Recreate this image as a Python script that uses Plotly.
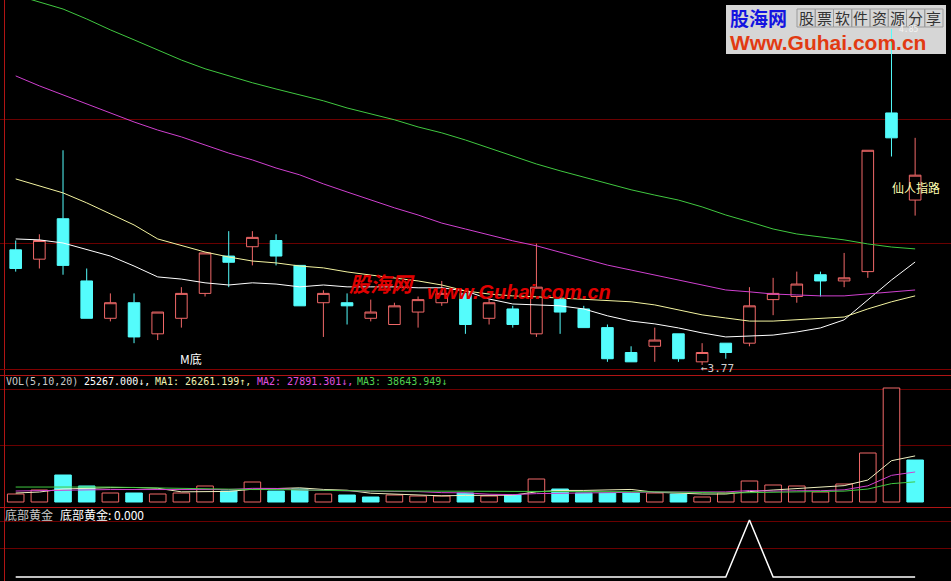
import plotly.graph_objects as go

# ---------------- data ----------------
idx = list(range(39))
opens  = [4.14,4.11,4.24,4.04,3.92,3.97,3.87,3.92,4.00,4.12,4.15,4.17,4.09,3.97,3.97,3.92,3.90,3.94,3.97,4.00,
          3.92,3.95,3.87,3.98,3.95,3.89,3.81,3.83,3.87,3.78,3.84,3.84,3.98,3.99,4.06,4.04,4.07,4.58,4.30]
highs  = [4.17,4.19,4.46,4.08,4.00,4.00,3.94,4.02,4.13,4.20,4.20,4.19,4.09,4.01,4.00,3.98,3.97,3.99,4.04,4.00,
          3.98,3.96,4.16,3.99,3.96,3.90,3.83,3.89,3.87,3.84,3.84,4.02,4.05,4.07,4.07,4.13,4.46,4.85,4.50]
lows   = [4.07,4.08,4.06,3.92,3.91,3.84,3.85,3.89,3.99,4.02,4.09,4.09,3.96,3.86,3.90,3.91,3.90,3.89,3.96,3.87,
          3.90,3.89,3.86,3.87,3.89,3.78,3.78,3.78,3.78,3.77,3.79,3.83,3.93,3.97,3.99,4.02,4.05,4.44,4.25]
closes = [4.08,4.17,4.09,3.92,3.97,3.86,3.94,4.00,4.13,4.10,4.18,4.12,3.96,4.00,3.96,3.94,3.96,3.98,4.00,3.90,
          3.97,3.90,4.02,3.94,3.89,3.79,3.78,3.85,3.79,3.81,3.81,3.96,4.00,4.03,4.04,4.05,4.46,4.50,4.38]

ma10 = [4.175,4.172,4.162,4.140,4.120,4.088,4.053,4.046,4.034,4.027,4.034,4.030,4.021,4.027,4.021,4.021,4.021,4.018,4.018,4.008,
        3.982,3.966,3.963,3.960,3.950,3.928,3.911,3.902,3.889,3.873,3.860,3.863,3.866,3.876,3.889,3.915,3.979,4.043,4.101]
ma20 = [4.368,4.345,4.323,4.291,4.255,4.220,4.175,4.153,4.133,4.117,4.104,4.098,4.088,4.082,4.069,4.059,4.050,4.040,4.027,4.008,
        3.998,3.992,3.989,3.985,3.982,3.979,3.973,3.963,3.947,3.931,3.921,3.911,3.911,3.915,3.918,3.924,3.950,3.973,3.992]
ma30 = [4.699,4.667,4.638,4.609,4.580,4.551,4.525,4.503,4.477,4.451,4.429,4.403,4.381,4.352,4.326,4.300,4.275,4.252,4.226,4.207,
        4.188,4.169,4.153,4.133,4.111,4.091,4.075,4.059,4.043,4.027,4.011,4.005,3.998,3.995,3.992,3.992,3.998,4.005,4.011]
ma60 = [4.959,4.937,4.914,4.882,4.847,4.815,4.783,4.750,4.722,4.699,4.677,4.657,4.638,4.619,4.596,4.577,4.558,4.535,4.516,4.493,
        4.468,4.442,4.416,4.394,4.374,4.352,4.333,4.316,4.300,4.278,4.252,4.230,4.207,4.191,4.181,4.172,4.159,4.149,4.143]

volume = [4810,7220,16240,9630,5410,5410,4810,5410,9630,6620,12030,6620,7820,4810,4210,3010,4210,3610,3610,5410,
          3610,4210,13840,7820,5410,5410,5410,5410,4810,3010,5410,12630,10230,9630,6020,10830,29480,68580,25267]
vol_up = [1,1,0,0,1,0,1,1,1,0,1,0,0,1,0,0,1,1,1,0,
          1,0,1,0,0,0,0,1,0,1,1,1,1,1,1,1,1,1,0]
vma5  = [5400,6000,7800,8400,8640,8760,8280,6120,6120,6360,7680,8040,8520,7560,7080,5280,4800,3960,3720,3960,
         4080,4080,6120,6960,6960,7320,7560,5880,5280,4800,4800,6240,7200,8160,8760,9840,13200,24840,27720]
vma10 = [6600,6900,7200,7500,7500,7500,7500,7500,7500,7500,8220,8160,7320,6840,6720,6480,6420,6240,5640,5520,
         4680,4440,5040,5340,5460,5700,5820,6000,6120,5880,6060,6900,6540,6720,6780,7320,9720,16020,18060]
vma20 = [9000,9000,9300,9300,9000,8700,8400,8100,7800,7800,7500,7500,7200,7200,6900,6600,6600,6600,6480,6540,
         6480,6300,6420,6420,6420,6360,6180,6120,6060,5700,5400,5670,5790,6030,6120,6540,7800,11040,12120]

signal = [0]*31 + [1] + [0]*7

# ---------------- styling ----------------
W, H = 951, 581
CYAN = "#54fcfc"
RED = "#f06868"
GRID = "#6a0000"
BORDER = "#b01414"

def px(x):
    return x / W

def py(y):
    return 1 - y / H

xr = [-0.663, 39.515]

fig = go.Figure()

fig.add_trace(go.Candlestick(
    x=idx, open=opens, high=highs, low=lows, close=closes,
    increasing=dict(line=dict(color=RED, width=1), fillcolor="#000000"),
    decreasing=dict(line=dict(color=CYAN, width=1), fillcolor=CYAN),
    whiskerwidth=0, xaxis="x", yaxis="y", hoverinfo="skip"))

for vals, col in [(ma10, "#ffffff"), (ma20, "#f4f4a0"), (ma30, "#d040d0"), (ma60, "#40c840")]:
    fig.add_trace(go.Scatter(x=idx, y=vals, mode="lines", line=dict(color=col, width=1),
                             xaxis="x", yaxis="y", hoverinfo="skip"))

fig.add_trace(go.Bar(
    x=idx, y=volume, width=0.7,
    marker=dict(color=["#000000" if u else CYAN for u in vol_up],
                line=dict(color=[RED if u else CYAN for u in vol_up], width=1)),
    xaxis="x2", yaxis="y2", hoverinfo="skip"))

for vals, col in [(vma5, "#f0f0c0"), (vma10, "#d040d0"), (vma20, "#40c840")]:
    fig.add_trace(go.Scatter(x=idx, y=vals, mode="lines", line=dict(color=col, width=1),
                             xaxis="x2", yaxis="y2", hoverinfo="skip"))

fig.add_trace(go.Scatter(x=idx, y=signal, mode="lines", line=dict(color="#ffffff", width=1.5),
                         xaxis="x3", yaxis="y3", hoverinfo="skip"))

ax_common = dict(showgrid=False, zeroline=False, showticklabels=False, ticks="", showline=False)

fig.update_layout(
    width=W, height=H, margin=dict(l=0, r=0, t=0, b=0),
    paper_bgcolor="#000000", plot_bgcolor="#000000", showlegend=False,
    xaxis=dict(range=xr, domain=[0, 1], anchor="y", rangeslider=dict(visible=False), **ax_common),
    xaxis2=dict(range=xr, domain=[0, 1], anchor="y2", **ax_common),
    xaxis3=dict(range=xr, domain=[0, 1], anchor="y3", **ax_common),
    yaxis=dict(range=[3.757, 4.943], domain=[py(369), 1], showgrid=True, gridcolor=GRID, gridwidth=1,
               tickvals=[4.16, 4.56], zeroline=False, showticklabels=False, ticks=""),
    yaxis2=dict(range=[-600, 76400], domain=[py(503), py(375)], showgrid=True, gridcolor=GRID, gridwidth=1,
                tickvals=[34200, 67800], zeroline=False, showticklabels=False, ticks=""),
    yaxis3=dict(range=[-0.0702, 1.228], domain=[0, py(507)], showgrid=True, gridcolor=GRID, gridwidth=1,
                tickvals=[0.5, 0.98], zeroline=False, showticklabels=False, ticks=""),
    bargap=0.3,
)

shapes = [
    dict(type="line", xref="paper", yref="paper", x0=px(4.5), x1=px(4.5), y0=0, y1=1,
         line=dict(color=BORDER, width=1)),
    dict(type="line", xref="paper", yref="paper", x0=0, x1=1, y0=py(369.5), y1=py(369.5),
         line=dict(color="#800000", width=1)),
    dict(type="line", xref="paper", yref="paper", x0=0, x1=1, y0=py(375.5), y1=py(375.5),
         line=dict(color=BORDER, width=1)),
    dict(type="line", xref="paper", yref="paper", x0=0, x1=1, y0=py(507.5), y1=py(507.5),
         line=dict(color=BORDER, width=1)),
    dict(type="rect", xref="paper", yref="paper", x0=px(726), x1=px(946), y0=py(54), y1=py(5),
         fillcolor="#d6d6d6", line=dict(width=0), layer="below"),
]
cell_w = 146 / 8
for k in range(8):
    shapes.append(dict(type="rect", xref="paper", yref="paper",
                       x0=px(797 + k * cell_w), x1=px(797 + (k + 1) * cell_w), y0=py(27), y1=py(9),
                       line=dict(color="#9a9a9a", width=1), fillcolor="rgba(0,0,0,0)", layer="below"))
fig.update_layout(shapes=shapes)

ann = []
def text(x, y, s, size, color, family="Noto Sans CJK SC", xanchor="left"):
    ann.append(dict(xref="paper", yref="paper", x=px(x), y=py(y), text=s, showarrow=False,
                    xanchor=xanchor, yanchor="middle", borderpad=0,
                    font=dict(size=size, color=color, family=family)))

mono = "DejaVu Sans Mono"
text(5, 381, "VOL(5,10,20)", 10, "#c8c8c8", mono)
text(83, 381, "25267.000↓,", 10, "#ffffff", mono)
text(154, 381, "MA1: 26261.199↑,", 10, "#f0f0b0", mono)
text(256, 381, "MA2: 27891.301↓,", 10, "#e050e0", mono)
text(356, 381, "MA3: 38643.949↓", 10, "#50d050", mono)

text(4, 514, "底部黄金", 12, "#c8c8c8")
text(59, 514, "底部黄金: 0.000", 12, "#ffffff")

text(179, 358, "M底", 12, "#ffffff")
text(891, 188, "仙人指路", 12, "#ffffb0")
text(700, 368, "←3.77", 11, "#d0d0d0", mono)

text(348, 283, "<b><i>股海网</i></b>", 21, "#e00000")
text(426, 292, "<b><i>www.Guhai.com.cn</i></b>", 20, "#e00000", "Liberation Sans")

text(729, 18, "<b>股海网</b>", 19, "#1414e0")
for k, ch in enumerate("股票软件资源分享"):
    text(797 + (k + 0.5) * cell_w, 18, ch, 15, "#333333", xanchor="center")
text(729, 43, "<b>Www.Guhai.com.cn</b>", 21, "#e23a12", "Liberation Sans")
text(898, 30, "4.85", 8, "#f4f4f4", mono)

fig.update_layout(annotations=ann)

fig.write_html("out.html", config={"displayModeBar": False},
               post_script="document.body.style.margin='0';document.body.style.padding='0';"
                           "document.body.style.overflow='hidden';document.body.style.background='#000';")
